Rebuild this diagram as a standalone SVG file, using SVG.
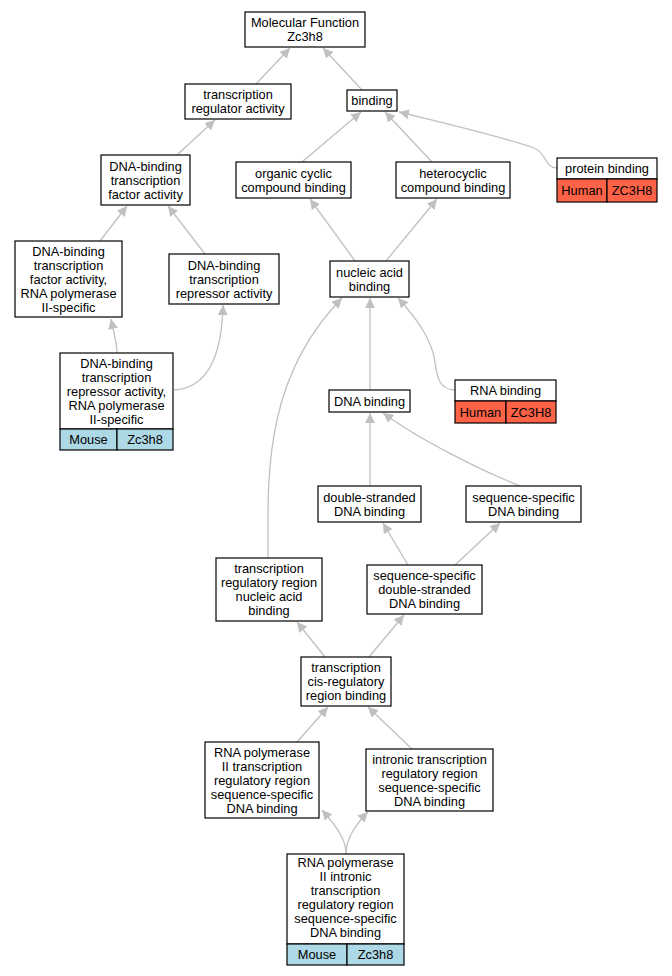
<svg xmlns="http://www.w3.org/2000/svg" width="672" height="976" viewBox="0 0 672 976">
<defs>
<marker id="ah" markerUnits="userSpaceOnUse" markerWidth="12" markerHeight="11" refX="10" refY="5" orient="auto">
<path d="M0,0 L10,5 L0,10 z" fill="#c0c0c0"/>
</marker>
<style>
.n rect{fill:#fff;stroke:#000;stroke-width:1.2}
.n rect.m{fill:#add8e6}
.n rect.h{fill:#ff6347}
text{font-family:"Liberation Sans",Arial,sans-serif;font-size:12.8px;text-anchor:middle;fill:#000}
#edges path{fill:none;stroke:#c0c0c0;stroke-width:1.3;marker-end:url(#ah)}
</style>
</defs>
<rect width="672" height="976" fill="#fff"/>
<g id="edges">
<path d="M256,84 L290,48"/>
<path d="M362,90 L323,48"/>
<path d="M177,155 L215,120"/>
<path d="M302,162 L361,112"/>
<path d="M432,162 L385,112"/>
<path d="M557,168 C545,168 546,152 534,148 C500,136 440,122 399,112"/>
<path d="M100,241 L127,206"/>
<path d="M205,254 L168,206"/>
<path d="M355,261 L310,199"/>
<path d="M386,261 L437,199"/>
<path d="M117,353 C117,345 115,337 111,319"/>
<path d="M174,390 C210,388 222,350 223,305"/>
<path d="M455,390 C440,390 437,378 435,362 C432,340 418,320 398,298"/>
<path d="M370,390 L370,298"/>
<path d="M268,558 C268,480 262,380 342,298"/>
<path d="M370,486 L370,413"/>
<path d="M520,486 C480,470 420,440 383,413"/>
<path d="M408,565 L383,523"/>
<path d="M455,565 L500,523"/>
<path d="M325,657 L297,622"/>
<path d="M369,657 L404,615"/>
<path d="M297,742 L328,707"/>
<path d="M412,749 L368,707"/>
<path d="M346,854 C346,840 338,828 322,810"/>
<path d="M346,854 C346,840 354,826 368,812"/>
</g>
<g id="mf" class="n"><rect x="245" y="12" width="120" height="35"/><text x="305" y="27">Molecular Function</text><text x="305" y="41">Zc3h8</text></g>
<g id="tra" class="n"><rect x="185" y="84" width="106" height="35"/><text x="238" y="99">transcription</text><text x="238" y="113">regulator activity</text></g>
<g id="binding" class="n"><rect x="347" y="90" width="50" height="21"/><text x="372" y="105">binding</text></g>
<g id="tfa" class="n"><rect x="101" y="155" width="89" height="50"/><text x="145.5" y="170.5">DNA-binding</text><text x="145.5" y="184.5">transcription</text><text x="145.5" y="198.5">factor activity</text></g>
<g id="occb" class="n"><rect x="236" y="162" width="115" height="36"/><text x="293.5" y="177.5">organic cyclic</text><text x="293.5" y="191.5">compound binding</text></g>
<g id="hcb" class="n"><rect x="396" y="162" width="114" height="36"/><text x="453" y="177.5">heterocyclic</text><text x="453" y="191.5">compound binding</text></g>
<g id="pb" class="n"><rect x="557" y="158" width="100" height="21"/><rect class="h" x="557" y="179" width="50" height="23"/><rect class="h" x="607" y="179" width="50" height="23"/><text x="607" y="173">protein binding</text><text x="582" y="195">Human</text><text x="632" y="195">ZC3H8</text></g>
<g id="tfa2" class="n"><rect x="15" y="241" width="107" height="76"/><text x="68.5" y="255.5">DNA-binding</text><text x="68.5" y="269.5">transcription</text><text x="68.5" y="283.5">factor activity,</text><text x="68.5" y="297.5">RNA polymerase</text><text x="68.5" y="311.5">II-specific</text></g>
<g id="tra2" class="n"><rect x="169" y="254" width="110" height="50"/><text x="224" y="269.5">DNA-binding</text><text x="224" y="283.5">transcription</text><text x="224" y="297.5">repressor activity</text></g>
<g id="nab" class="n"><rect x="330" y="261" width="79" height="36"/><text x="369.5" y="276.5">nucleic acid</text><text x="369.5" y="290.5">binding</text></g>
<g id="tra3" class="n"><rect x="60" y="353" width="113" height="76"/><rect class="m" x="60" y="429" width="57" height="21"/><rect class="m" x="117" y="429" width="56" height="21"/><text x="116.5" y="367.5">DNA-binding</text><text x="116.5" y="381.5">transcription</text><text x="116.5" y="395.5">repressor activity,</text><text x="116.5" y="409.5">RNA polymerase</text><text x="116.5" y="423.5">II-specific</text><text x="88.5" y="444">Mouse</text><text x="145" y="444">Zc3h8</text></g>
<g id="rnab" class="n"><rect x="455" y="380" width="101" height="21"/><rect class="h" x="455" y="401" width="51" height="22"/><rect class="h" x="506" y="401" width="50" height="22"/><text x="505.5" y="395">RNA binding</text><text x="480.5" y="417">Human</text><text x="531" y="417">ZC3H8</text></g>
<g id="dnab" class="n"><rect x="329" y="390" width="81" height="22"/><text x="369.5" y="405.5">DNA binding</text></g>
<g id="dsdb" class="n"><rect x="318" y="486" width="103" height="36"/><text x="369.5" y="501.5">double-stranded</text><text x="369.5" y="515.5">DNA binding</text></g>
<g id="ssdb" class="n"><rect x="466" y="486" width="115" height="36"/><text x="523.5" y="501.5">sequence-specific</text><text x="523.5" y="515.5">DNA binding</text></g>
<g id="trrnab" class="n"><rect x="216" y="558" width="106" height="63"/><text x="269" y="573">transcription</text><text x="269" y="587">regulatory region</text><text x="269" y="601">nucleic acid</text><text x="269" y="615">binding</text></g>
<g id="ssdsdb" class="n"><rect x="367" y="565" width="115" height="49"/><text x="424.5" y="580">sequence-specific</text><text x="424.5" y="594">double-stranded</text><text x="424.5" y="608">DNA binding</text></g>
<g id="tcrrb" class="n"><rect x="301" y="657" width="90" height="49"/><text x="346" y="672">transcription</text><text x="346" y="686">cis-regulatory</text><text x="346" y="700">region binding</text></g>
<g id="rp2" class="n"><rect x="205" y="742" width="114" height="76"/><text x="262" y="756.5">RNA polymerase</text><text x="262" y="770.5">II transcription</text><text x="262" y="784.5">regulatory region</text><text x="262" y="798.5">sequence-specific</text><text x="262" y="812.5">DNA binding</text></g>
<g id="itr" class="n"><rect x="366" y="749" width="127" height="62"/><text x="429.5" y="763.5">intronic transcription</text><text x="429.5" y="777.5">regulatory region</text><text x="429.5" y="791.5">sequence-specific</text><text x="429.5" y="805.5">DNA binding</text></g>
<g id="rp2i" class="n"><rect x="287" y="854" width="117" height="90"/><rect class="m" x="287" y="944" width="60" height="21"/><rect class="m" x="347" y="944" width="57" height="21"/><text x="345.5" y="867">RNA polymerase</text><text x="345.5" y="881">II intronic</text><text x="345.5" y="895">transcription</text><text x="345.5" y="909">regulatory region</text><text x="345.5" y="923">sequence-specific</text><text x="345.5" y="937">DNA binding</text><text x="317" y="959">Mouse</text><text x="375.5" y="959">Zc3h8</text></g>
</svg>
